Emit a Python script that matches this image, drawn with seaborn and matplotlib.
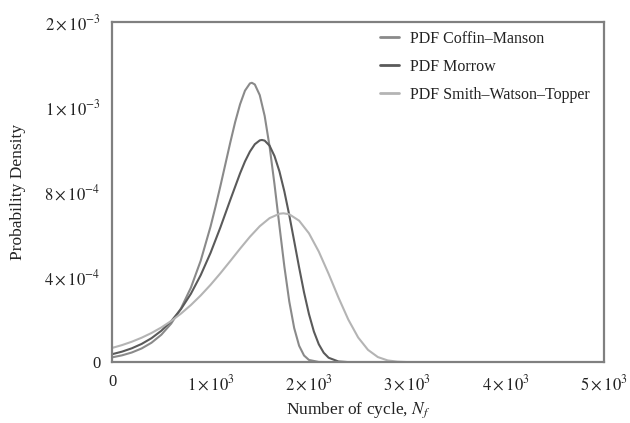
import matplotlib
matplotlib.use("Agg")
import matplotlib.pyplot as plt
import seaborn as sns
import pandas as pd

# ---- data ----
cm_x = [0, 100, 200, 300, 400, 500, 600, 700, 800, 900, 1000, 1050, 1100, 1150, 1200, 1250,
        1300, 1350, 1400, 1420, 1450, 1500, 1550, 1600, 1650, 1700, 1750, 1800, 1850, 1900,
        1950, 2000, 2100, 2200, 3000]
cm_y = [2.23e-5, 3.17e-5, 4.52e-5, 6.42e-5, 9.11e-5, 1.287e-4, 1.811e-4, 2.530e-4, 3.497e-4,
        4.770e-4, 6.376e-4, 7.30e-4, 8.281e-4, 9.30e-4, 1.032e-3, 1.129e-3, 1.213e-3, 1.277e-3,
        1.311e-3, 1.314e-3, 1.306e-3, 1.256e-3, 1.158e-3, 1.014e-3, 8.36e-4, 6.407e-4, 4.50e-4,
        2.851e-4, 1.60e-4, 7.69e-5, 3.1e-5, 1.01e-5, 5e-7, 0.0, 0.0]

mo_x = [0, 100, 200, 300, 400, 500, 600, 700, 800, 900, 1000, 1100, 1200, 1300, 1350, 1400,
        1450, 1500, 1522, 1550, 1600, 1650, 1700, 1750, 1800, 1850, 1900, 1950, 2000, 2050,
        2100, 2150, 2200, 2300, 2400, 3000]
mo_y = [3.71e-5, 4.91e-5, 6.49e-5, 8.55e-5, 1.125e-4, 1.475e-4, 1.924e-4, 2.496e-4, 3.212e-4,
        4.091e-4, 5.137e-4, 6.336e-4, 7.623e-4, 8.879e-4, 9.44e-4, 9.903e-4, 1.025e-3, 1.043e-3,
        1.045e-3, 1.042e-3, 1.018e-3, 9.69e-4, 8.972e-4, 8.03e-4, 6.914e-4, 5.69e-4, 4.454e-4,
        3.28e-4, 2.261e-4, 1.44e-4, 8.38e-5, 4.39e-5, 2.04e-5, 2.8e-6, 0.0, 0.0]

swt_x = [0, 100, 200, 300, 400, 500, 600, 700, 800, 900, 1000, 1100, 1200, 1300, 1400, 1500,
         1600, 1700, 1741, 1800, 1900, 2000, 2100, 2200, 2300, 2400, 2500, 2600, 2700, 2800,
         2900, 3000]
swt_y = [6.66e-5, 7.99e-5, 9.58e-5, 1.147e-4, 1.369e-4, 1.629e-4, 1.933e-4, 2.283e-4, 2.683e-4,
         3.135e-4, 3.635e-4, 4.179e-4, 4.752e-4, 5.335e-4, 5.895e-4, 6.392e-4, 6.773e-4,
         6.979e-4, 7.00e-4, 6.954e-4, 6.653e-4, 6.059e-4, 5.198e-4, 4.150e-4, 3.035e-4,
         1.999e-4, 1.158e-4, 5.75e-5, 2.37e-5, 7.8e-6, 1.9e-6, 0.0]

series_names = ["PDF Coffin\u2013Manson", "PDF Morrow", "PDF Smith\u2013Watson\u2013Topper"]

x_ticks = [0, 1000, 2000, 3000, 4000, 5000]
x_tick_labels = ["0", r"$1\times10^{3}$", r"$2\times10^{3}$", r"$3\times10^{3}$",
                 r"$4\times10^{3}$", r"$5\times10^{3}$"]
y_ticks = [0, 4e-4, 8e-4, 1.2e-3, 1.6e-3]
y_tick_labels = ["0", r"$4\times10^{-4}$", r"$8\times10^{-4}$", r"$1\times10^{-3}$",
                 r"$2\times10^{-3}$"]

# ---- build long table ----
frames = []
for name, xs, ys in zip(series_names, [cm_x, mo_x, swt_x], [cm_y, mo_y, swt_y]):
    frames.append(pd.DataFrame({"N": xs, "pdf": ys, "series": name}))
df = pd.concat(frames, ignore_index=True)

sns.set_style("white")
plt.rcParams["font.family"] = ["Liberation Serif", "DejaVu Serif"]
plt.rcParams["mathtext.fontset"] = "stix"

fig = plt.figure(figsize=(6.3, 4.23), dpi=100)
ax = fig.add_axes([0.178, 0.144, 0.781, 0.804])

palette = {series_names[0]: "#8a8a8a", series_names[1]: "#5a5a5a", series_names[2]: "#b4b4b4"}
sns.lineplot(data=df, x="N", y="pdf", hue="series", hue_order=series_names,
             palette=palette, estimator=None, sort=True, linewidth=1.5, ax=ax)

ax.set_xlim(0, 5000)
ax.set_ylim(0, 1.6e-3)
ax.set_xticks(x_ticks)
ax.set_xticklabels(x_tick_labels)
ax.set_yticks(y_ticks)
ax.set_yticklabels(y_tick_labels)
ax.tick_params(direction="inout", length=5, width=1.5, color="#555555",
               labelsize=12, labelcolor="#222222", pad=6)

for sp in ax.spines.values():
    sp.set_visible(True)
    sp.set_color("#808080")
    sp.set_linewidth(1.6)

ax.set_xlabel(r"Number of cycle, $N_f$", fontsize=12.5, color="#222222", labelpad=5)
ax.set_ylabel("Probability Density", fontsize=12.5, color="#222222", labelpad=13)

leg = ax.legend(loc="upper left", bbox_to_anchor=(0.515, 1.017), frameon=False,
                fontsize=11.5, handlelength=1.2, handletextpad=0.7, labelspacing=0.75)
for line in leg.get_lines():
    line.set_linewidth(2.0)
for t in leg.get_texts():
    t.set_color("#222222")

fig.savefig("out.png", dpi=100, facecolor="white")
